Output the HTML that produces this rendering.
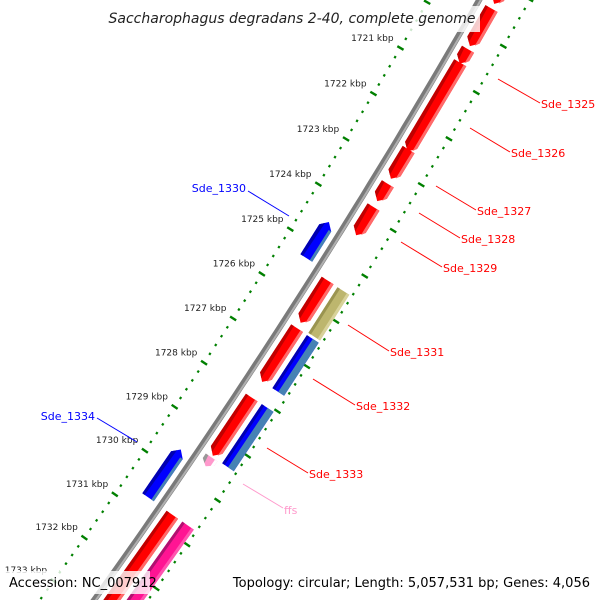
<!DOCTYPE html>
<html><head><meta charset="utf-8"><style>
html,body{margin:0;padding:0;background:#fff;width:600px;height:600px;overflow:hidden;}
svg{display:block;overflow:hidden;font-family:"DejaVu Sans","Liberation Sans",sans-serif;}
</style></head><body>
<svg id="map" width="600" height="600" viewBox="0 0 600 600">
<g id="ticks"></g>
<g id="backbone"></g>
<g id="genes"></g>
<g id="labels"></g>
<g>
<rect x="112" y="6" width="368" height="26" fill="#fff" fill-opacity="0.8"/>
<text x="292" y="23" text-anchor="middle" font-size="14" font-style="italic" fill="#222">Saccharophagus degradans 2-40, complete genome</text>
</g>
<rect x="5" y="571" width="145" height="23" fill="#fff" fill-opacity="0.8"/>
<text x="9" y="587" font-size="13" fill="#000">Accession: NC_007912</text>
<text x="590" y="587" font-size="13" fill="#000" text-anchor="end">Topology: circular; Length: 5,057,531 bp; Genes: 4,056</text>
</svg>
<script>
const tickKbp = [1719,1720,1721,1722,1723,1724,1725,1726,1727,1728,1729,1730,1731,1732,1733,1734];
const geneNames = ["g0","g1","g2","g3","g4","g5","g6","Sde_1330","Sde_1331red","Sde_1331","Sde_1332red","Sde_1332","Sde_1333red","Sde_1333","ffs","Sde_1334","g_end_red","g_end_pink"];
const geneStart = [1719.0,1719.5,1720.38,1720.67,1722.56,1723.31,1723.82,1724.5,1725.44,1725.45,1726.5,1726.51,1728.05,1728.05,1729.4,1729.6,1730.7,1730.7];
const geneEnd   = [1719.4,1720.31,1720.69,1722.6,1723.2,1723.69,1724.44,1725.3,1726.38,1726.46,1727.7,1727.69,1729.36,1729.38,1729.6,1730.69,1734.0,1734.0];
const geneTrack = [1,1,1,1,1,1,1,-1,1,2,1,2,1,2,1,-1,1,2];
const geneStrand= [1,1,1,1,1,1,1,-1,1,0,1,0,1,0,1,-1,1,0];
const geneColor = ["#ff0000","#ff0000","#ff0000","#ff0000","#ff0000","#ff0000","#ff0000","#0000ff","#ff0000","#bdb66e","#ff0000","#0000ff","#ff0000","#0000ff","#ff99cc","#0000ff","#ff0000","#ff1493"];
const labelText = ["Sde_1325","Sde_1326","Sde_1327","Sde_1328","Sde_1329","Sde_1330","Sde_1331","Sde_1332","Sde_1333","ffs","Sde_1334"];
const labelColor= ["#f00","#f00","#f00","#f00","#f00","#00f","#f00","#f00","#f00","#ff99cc","#00f"];

const NS="http://www.w3.org/2000/svg";
const CX=-5604.5, CY=-3480.7, RB=7009;
function ang(k){return (30.44+(k-1721)*0.436)*Math.PI/180;}
function P(k,r){const a=ang(k);return [CX+(RB+r)*Math.cos(a), CY+(RB+r)*Math.sin(a)];}
function mk(tag,attrs,parent){const e=document.createElementNS(NS,tag);for(const a in attrs)e.setAttribute(a,attrs[a]);parent.appendChild(e);return e;}
function pts(arr){return arr.map(p=>p[0].toFixed(1)+","+p[1].toFixed(1)).join(" ");}

// backbone
const bb=document.getElementById('backbone');
let line=[];for(let k=1717;k<=1735;k+=0.25)line.push(P(k,0));
let b1=mk('polyline',{points:pts(line),fill:'none',stroke:'#7a7a7a','stroke-width':6},bb);


let line2=[];for(let k=1717;k<=1735;k+=0.25)line2.push(P(k,1.5));
let b2=mk('polyline',{points:pts(line2),fill:'none',stroke:'#b0b0b0','stroke-width':2},bb);



// ticks (radial)
const tg=document.getElementById('ticks');
[-44,44].forEach(r=>{
  for(let i=0;i<=90;i++){
    const kk=1717+i*0.2;
    const major=(i%5===0);
    const len=major?3.6:1.1;
    const a=P(kk,r-len),b=P(kk,r+len);
    const t=mk('line',{x1:a[0],y1:a[1],x2:b[0],y2:b[1],stroke:'#008000','stroke-width':major?2.4:2.4},tg);
    
    
  }
});
tickKbp.forEach(k=>{
  const p=P(k,-52);
  const t=mk('text',{x:p[0],y:p[1]-3,'font-size':9,'text-anchor':'end',fill:'#222'},tg);
  t.textContent=k+" kbp";
  
  
});

// genes
const gg=document.getElementById('genes');
const trackR={1:[8,22],2:[27,41],'-1':[-22,-8]};
function lighten(c){return c==="#ff0000"?"#ff6a6a":c==="#0000ff"?"#4682b4":c==="#ff1493"?"#ff55b0":c==="#bdb66e"?"#d8d29a":"#ffffff";}
function darken(c){return c==="#ff0000"?"#c00000":c==="#0000ff"?"#0000b0":c==="#ff1493"?"#b01070":c==="#bdb66e"?"#9a9450":"#999";}
geneStart.forEach((s,i)=>{
  const e=geneEnd[i],[r1,r2]=trackR[geneTrack[i]],rm=(r1+r2)/2,st=geneStrand[i];
  const c=geneColor[i];
  const h=Math.min(0.13,(e-s)*0.5);
  let poly;
  if(st===1) poly=[P(s,r1),P(e-h,r1),P(e,rm),P(e-h,r2),P(s,r2)];
  else if(st===-1) poly=[P(e,r1),P(s+h,r1),P(s,rm),P(s+h,r2),P(e,r2)];
  else poly=[P(s,r1),P(e,r1),P(e,r2),P(s,r2)];
  const g=mk('g',{},gg);
  
  
  const m=mk('polygon',{points:pts(poly),fill:c},g);
  
  
  const sh=(st===1)?[P(s,r1),P(e-h,r1),P(e-h*0.4,r1+(rm-r1)*0.6),P(s,r1+3)]:(st===-1)?[P(e,r1),P(s+h,r1),P(s+h*0.4,r1+(rm-r1)*0.6),P(e,r1+3)]:[P(s,r1),P(e,r1),P(e,r1+3),P(s,r1+3)];
  const d=mk('polygon',{points:pts(sh),fill:darken(c)},g);
  
  
  const lr = (st===0 && c==="#0000ff") ? [rm,r2] : [r2-3,r2];
  const lp=(st===1)?[P(s,lr[0]),P(e-h,lr[0]),P(e-h*0.4,lr[0]),P(e-h,r2),P(s,r2)]:(st===-1)?[P(e,lr[0]),P(s+h,lr[0]),P(s+h,r2),P(e,r2)]:[P(s,lr[0]),P(e,lr[0]),P(e,r2),P(s,r2)];
  const l=mk('polygon',{points:pts(lp),fill:lighten(c)},g);
  
  
});

// labels
const lg=document.getElementById('labels');
const lab=[[498,79,540,103,541,108,'start'],[470,128,510,152,511,157,'start'],[436,186,476,210,477,215,'start'],[419,213,460,238,461,243,'start'],[401,242,442,267,443,272,'start'],[289,216,248,191,246,192,'end'],[348,325,389,351,390,356,'start'],[313,379,355,405,356,410,'start'],[267,448,308,473,309,478,'start'],[243,484,283,508,284,514,'start'],[137,442,97,418,95,420,'end']];
labelText.forEach((t,i)=>{
  const L=lab[i];
  const ln=mk('line',{x1:L[0],y1:L[1],x2:L[2],y2:L[3],stroke:labelColor[i],'stroke-width':1},lg);
  
  
  const tx=mk('text',{x:L[4],y:L[5],'font-size':11,fill:labelColor[i],'text-anchor':L[6]},lg);
  tx.textContent=t;
  
  
});
</script>
</body></html>
